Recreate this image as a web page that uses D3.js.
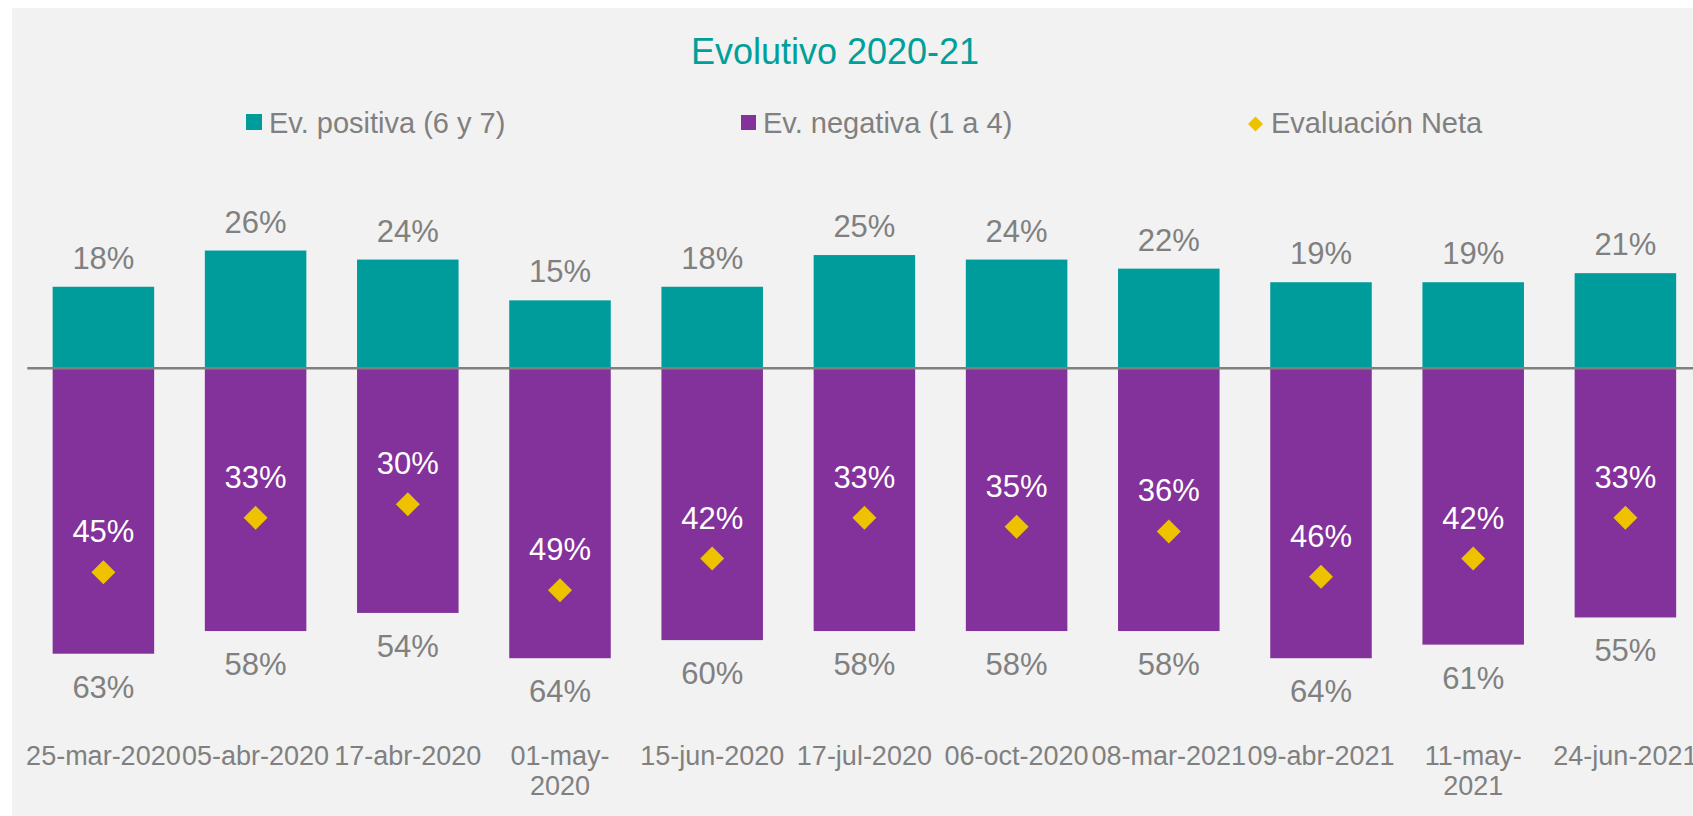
<!DOCTYPE html>
<html>
<head>
<meta charset="utf-8">
<script src="https://cdn.jsdelivr.net/npm/d3@7"></script>
<style>
  body { margin: 0; background: #fff; }
  svg { display: block; font-family: "Liberation Sans", Arial, sans-serif; }
</style>
</head>
<body>
<svg id="chart" width="1693" height="816"></svg>
<script>
// data
const dates = ["25-mar-2020", "05-abr-2020", "17-abr-2020", "01-may-2020", "15-jun-2020",
  "17-jul-2020", "06-oct-2020", "08-mar-2021", "09-abr-2021", "11-may-2021", "24-jun-2021"];
const positiva = [18, 26, 24, 15, 18, 25, 24, 22, 19, 19, 21];
const negativa = [63, 58, 54, 64, 60, 58, 58, 58, 64, 61, 55];
const neta = [-45, -33, -30, -49, -42, -33, -35, -36, -46, -42, -33];
const seriesNames = ["Ev. positiva (6 y 7)", "Ev. negativa (1 a 4)", "Evaluación Neta"];

const teal = "#009b9b", purple = "#82329a", gold = "#efc200", grey = "#808080";

const svg = d3.select("#chart"),
  width = +svg.attr("width"),
  height = +svg.attr("height");

// chart area background
svg.append("rect")
  .attr("x", 12).attr("y", 8)
  .attr("width", width - 12).attr("height", height - 8)
  .attr("fill", "#f2f2f2");

// title
svg.append("text")
  .attr("x", 835).attr("y", 64)
  .attr("text-anchor", "middle")
  .attr("fill", "#00a09a")
  .style("font-size", "36px")
  .text("Evolutivo 2020-21");

// scales
const x = d3.scaleBand()
  .domain(dates)
  .range([27.3, 27.3 + 11 * 152.2])
  .paddingInner(0.333)
  .paddingOuter(0.1665);

const y = d3.scaleLinear().domain([-70, 30]).range([685.4, 232.4]);

// square diamond
const diamond = {
  draw(ctx, size) {
    const r = Math.sqrt(size / 2);
    ctx.moveTo(0, -r); ctx.lineTo(r, 0); ctx.lineTo(0, r); ctx.lineTo(-r, 0); ctx.closePath();
  }
};

// legend
const legendX = [246, 741, 1248];
const legend = svg.append("g");
legend.append("rect").attr("x", legendX[0]).attr("y", 114).attr("width", 16).attr("height", 16).attr("fill", teal);
legend.append("rect").attr("x", legendX[1]).attr("y", 115).attr("width", 15).attr("height", 15).attr("fill", purple);
legend.append("path")
  .attr("d", d3.symbol().type(diamond).size(112)())
  .attr("transform", `translate(${legendX[2] + 7.5},124)`)
  .attr("fill", gold);
legend.selectAll("text.leg")
  .data(seriesNames)
  .join("text")
  .attr("class", "leg")
  .attr("x", (d, i) => [269, 763, 1271][i])
  .attr("y", 133)
  .attr("fill", grey)
  .style("font-size", "29px")
  .text(d => d);

// bars
const g = svg.append("g");
g.selectAll("rect.pos")
  .data(dates)
  .join("rect")
  .attr("class", "pos")
  .attr("x", d => x(d))
  .attr("width", x.bandwidth())
  .attr("y", (d, i) => y(positiva[i]))
  .attr("height", (d, i) => y(0) - y(positiva[i]))
  .attr("fill", teal);

g.selectAll("rect.neg")
  .data(dates)
  .join("rect")
  .attr("class", "neg")
  .attr("x", d => x(d))
  .attr("width", x.bandwidth())
  .attr("y", y(0))
  .attr("height", (d, i) => y(-negativa[i]) - y(0))
  .attr("fill", purple);

// zero line
svg.append("line")
  .attr("x1", x.range()[0]).attr("x2", width)
  .attr("y1", y(0)).attr("y2", y(0))
  .attr("stroke", grey)
  .attr("stroke-width", 2.5);

// net evaluation markers
svg.selectAll("path.net")
  .data(dates)
  .join("path")
  .attr("class", "net")
  .attr("d", d3.symbol().type(diamond).size(288)())
  .attr("transform", (d, i) => `translate(${x(d) + x.bandwidth() / 2},${y(neta[i])})`)
  .attr("fill", gold);

// labels
const cx = d => x(d) + x.bandwidth() / 2;
svg.selectAll("text.lpos")
  .data(dates)
  .join("text")
  .attr("class", "lpos")
  .attr("x", cx)
  .attr("y", (d, i) => y(positiva[i]) - 18)
  .attr("text-anchor", "middle")
  .attr("fill", grey)
  .style("font-size", "31px")
  .text((d, i) => positiva[i] + "%");

svg.selectAll("text.lneg")
  .data(dates)
  .join("text")
  .attr("class", "lneg")
  .attr("x", cx)
  .attr("y", (d, i) => y(-negativa[i]) + 44)
  .attr("text-anchor", "middle")
  .attr("fill", grey)
  .style("font-size", "31px")
  .text((d, i) => negativa[i] + "%");

svg.selectAll("text.lnet")
  .data(dates)
  .join("text")
  .attr("class", "lnet")
  .attr("x", cx)
  .attr("y", (d, i) => y(neta[i]) - 30)
  .attr("text-anchor", "middle")
  .attr("fill", "#fff")
  .style("font-size", "31px")
  .text((d, i) => Math.abs(neta[i]) + "%");

// category axis labels, wrapped at the last hyphen when too wide for the band
const ticks = svg.selectAll("text.tick")
  .data(dates)
  .join("text")
  .attr("class", "tick")
  .attr("x", cx)
  .attr("y", 765)
  .attr("text-anchor", "middle")
  .attr("fill", grey)
  .style("font-size", "27px")
  .text(d => d);

ticks.each(function (d) {
  const t = d3.select(this);
  if (this.getComputedTextLength() > x.step() + 3) {
    const k = d.lastIndexOf("-") + 1;
    t.text(null);
    t.append("tspan").attr("x", cx(d)).attr("dy", 0).text(d.slice(0, k));
    t.append("tspan").attr("x", cx(d)).attr("dy", 30).text(d.slice(k));
  }
});
</script>
</body>
</html>
